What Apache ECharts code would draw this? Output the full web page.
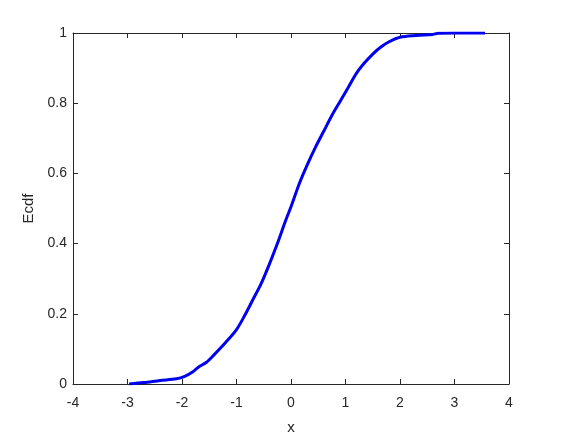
<!DOCTYPE html>
<html>
<head>
<meta charset="utf-8">
<script src="https://cdn.jsdelivr.net/npm/echarts@6/dist/echarts.min.js"></script>
<style>
  html, body { margin: 0; padding: 0; background: #fff; }
  #chart { width: 562px; height: 437px; }
</style>
</head>
<body>
<div id="chart"></div>
<script>
const xs = [-2.97, -2.7, -2.4, -2.1, -1.95, -1.8, -1.7, -1.55, -1.4, -1.2, -1.0, -0.85, -0.7, -0.55, -0.4, -0.25, -0.1, 0.0,
  0.15, 0.3, 0.45, 0.6, 0.75, 0.9, 1.05, 1.2, 1.35, 1.5, 1.65, 1.8, 2.0, 2.3, 2.6, 2.7, 3.0, 3.56];
const ys = [0.0, 0.004, 0.010, 0.015, 0.022, 0.035, 0.048, 0.062, 0.085, 0.118, 0.155, 0.195, 0.240, 0.285, 0.340, 0.400, 0.465, 0.505,
  0.570, 0.625, 0.675, 0.720, 0.765, 0.805, 0.845, 0.885, 0.915, 0.940, 0.960, 0.975, 0.988, 0.993, 0.996, 0.999, 1.0, 1.0];

const xTicks = [-4, -3, -2, -1, 0, 1, 2, 3, 4];
const yTicks = [0, 0.2, 0.4, 0.6, 0.8, 1];

const axisCol = '#262626';
const font = 'Liberation Sans, Arial, sans-serif';

let myChart = echarts.init(document.getElementById('chart'));

const baseAxis = {
  axisLine: { show: true, onZero: false, lineStyle: { color: axisCol, width: 1 } },
  axisTick: { show: true, inside: true, length: 5, lineStyle: { color: axisCol } },
  splitLine: { show: false },
};

let option = {
  animation: false,
  backgroundColor: '#fff',
  grid: { left: 73, right: 53, top: 33, bottom: 53, containLabel: false, outerBoundsMode: 'none' },
  xAxis: [
    Object.assign({}, baseAxis, {
      type: 'value', min: xTicks[0], max: xTicks[xTicks.length - 1], interval: 1, position: 'bottom',
      name: 'x', nameLocation: 'middle', nameGap: 36,
      nameTextStyle: { color: axisCol, fontSize: 15, fontFamily: font },
      axisLabel: { color: axisCol, fontSize: 14, fontFamily: font, margin: 12 },
    }),
    Object.assign({}, baseAxis, {
      type: 'value', min: xTicks[0], max: xTicks[xTicks.length - 1], interval: 1, position: 'top',
      axisLabel: { show: false },
    }),
  ],
  yAxis: [
    Object.assign({}, baseAxis, {
      type: 'value', min: yTicks[0], max: yTicks[yTicks.length - 1], interval: 0.2, position: 'left',
      name: 'Ecdf', nameLocation: 'middle', nameGap: 35,
      nameTextStyle: { color: axisCol, fontSize: 15, fontFamily: font },
      axisLabel: { color: axisCol, fontSize: 14, fontFamily: font, margin: 6,
        formatter: v => String(Math.round(v * 10) / 10) },
    }),
    Object.assign({}, baseAxis, {
      type: 'value', min: yTicks[0], max: yTicks[yTicks.length - 1], interval: 0.2, position: 'right',
      axisLabel: { show: false },
    }),
  ],
  series: [
    {
      type: 'line',
      xAxisIndex: 0,
      yAxisIndex: 0,
      showSymbol: false,
      smooth: 0.3,
      lineStyle: { color: '#0000ee', width: 3 },
      data: xs.map((x, i) => [x, ys[i]]),
    },
  ],
};

option && myChart.setOption(option);
</script>
</body>
</html>
